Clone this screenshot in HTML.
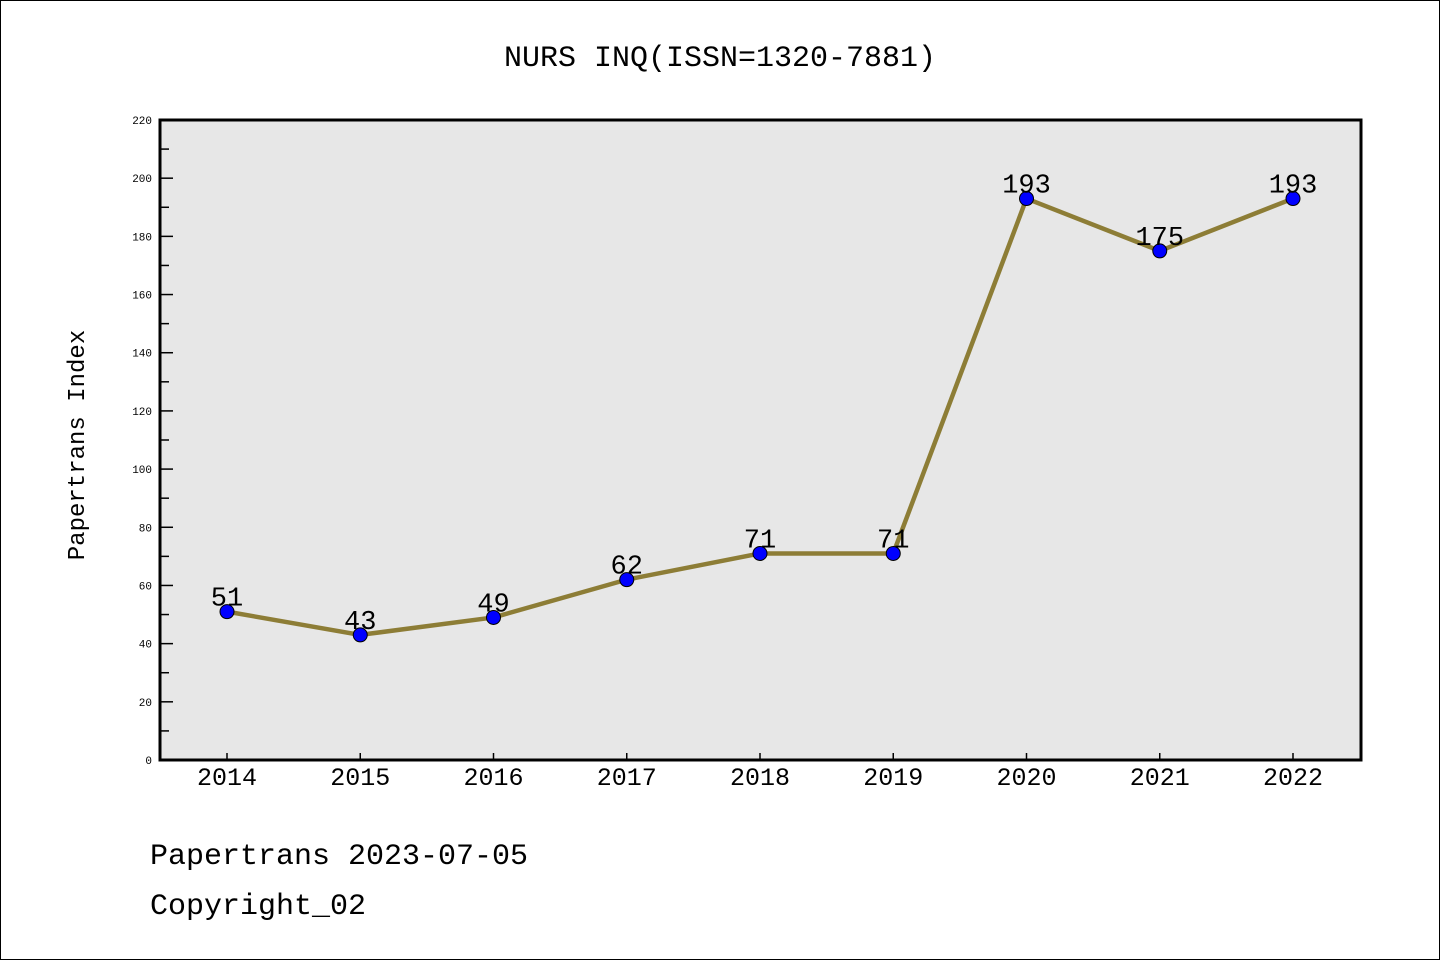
<!DOCTYPE html>
<html><head><meta charset="utf-8"><style>
html,body{margin:0;padding:0;background:#fff}
svg{display:block}
text{font-family:"Liberation Mono","DejaVu Sans Mono",monospace}
</style></head><body>
<svg id="chart" width="1440" height="960" xmlns="http://www.w3.org/2000/svg">
<rect x="0.5" y="0.5" width="1439" height="959" fill="#fff" stroke="#000" stroke-width="1"/>
<text x="720" y="66" font-size="30" text-anchor="middle">NURS INQ(ISSN=1320-7881)</text>
<rect x="160" y="120" width="1201" height="640" fill="#e7e7e7"/>
<g id="yticks"></g>
<g id="xticks"></g>
<g id="series"></g>
<rect x="160" y="120" width="1201" height="640" fill="none" stroke="#000" stroke-width="3"/>
<text x="0" y="0" transform="translate(84,445) rotate(-90)" font-size="24" text-anchor="middle">Papertrans Index</text>
<text x="150" y="864" font-size="30">Papertrans 2023-07-05</text>
<text x="150" y="914" font-size="30">Copyright_02</text>
</svg>
<script>
const years = ["2014","2015","2016","2017","2018","2019","2020","2021","2022"];
const values = [51,43,49,62,71,71,193,175,193];
const yTickLabels = [0,20,40,60,80,100,120,140,160,180,200,220];
const NS="http://www.w3.org/2000/svg";
const X0=160,X1=1361,Y0=760,Y1=120,YMAX=220;
function sx(i){return 227+i*(1293-227)/(years.length-1);}
function sy(v){return Y0-(v/YMAX)*(Y0-Y1);}
function mk(tag,attrs,parent){const e=document.createElementNS(NS,tag);for(const k in attrs)e.setAttribute(k,attrs[k]);parent.appendChild(e);return e;}
const yg=document.getElementById('yticks');
yTickLabels.forEach((v,i)=>{
  const y=sy(v);
  const t=mk('line',{x1:X0,x2:X0+13,y1:y,y2:y,stroke:'#000','stroke-width':1.5},yg);
  
  
  const l=mk('text',{x:X0-8,y:y+4,'font-size':11,'text-anchor':'end'},yg);
  l.textContent=v;
  
  
  if(i<yTickLabels.length-1){
    const ym=sy(v+10);
    const m=mk('line',{x1:X0,x2:X0+9,y1:ym,y2:ym,stroke:'#000','stroke-width':1.5},yg);
    
    
  }
});
const xg=document.getElementById('xticks');
years.forEach((yr,i)=>{
  const x=sx(i);
  const t=mk('line',{x1:x,x2:x,y1:Y0,y2:Y0-7,stroke:'#000','stroke-width':1.5},xg);
  
  
  const l=mk('text',{x:x,y:785,'font-size':25,'text-anchor':'middle'},xg);
  l.textContent=yr;
  
  
});
const sg=document.getElementById('series');
const pts=values.map((v,i)=>sx(i)+','+sy(v)).join(' ');
const pl=mk('polyline',{points:pts,fill:'none',stroke:'#8d7d36','stroke-width':4.5,'stroke-linejoin':'round'},sg);


values.forEach((v,i)=>{
  const c=mk('circle',{cx:sx(i),cy:sy(v),r:7,fill:'#0000ff',stroke:'#000','stroke-width':1},sg);
  
  
  const l=mk('text',{x:sx(i),y:sy(v)-6,'font-size':27,'text-anchor':'middle'},sg);
  l.textContent=v;
  
  
});
</script>
</body></html>
